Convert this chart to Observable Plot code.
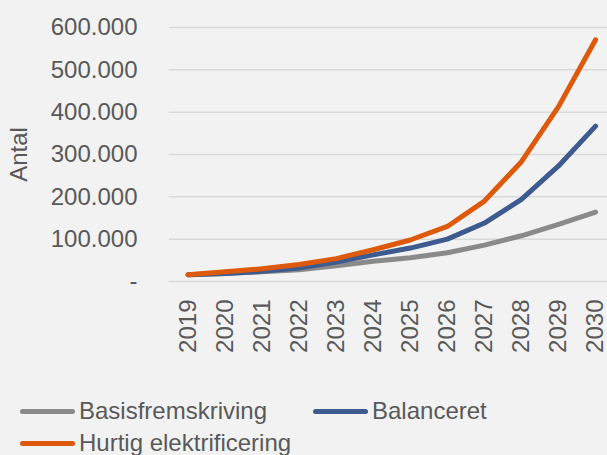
<!DOCTYPE html>
<html>
<head>
<meta charset="utf-8">
<script src="https://cdn.jsdelivr.net/npm/d3@7"></script>
<script src="https://cdn.jsdelivr.net/npm/@observablehq/plot@0.6"></script>
<style>
  html, body { margin: 0; padding: 0; background: #f2f2f2; }
  #wrap { position: relative; width: 607px; height: 455px; overflow: hidden; font-family: "Liberation Sans", Arial, sans-serif; color: #595959; }
  .leg { position: absolute; display: flex; align-items: center; font-size: 24px; white-space: nowrap; }
  .leg .sw { width: 55px; height: 5px; border-radius: 3px; margin-right: 4px; }
</style>
</head>
<body>
<div id="wrap"></div>
<script>
const years = [2019, 2020, 2021, 2022, 2023, 2024, 2025, 2026, 2027, 2028, 2029, 2030];
const basis = [16000, 19000, 23000, 28000, 37000, 48000, 56000, 68000, 86000, 108000, 135000, 164000];
const balanceret = [16000, 19000, 24000, 32000, 46000, 63000, 79000, 100000, 138000, 194000, 273000, 367000];
const hurtig = [16000, 23000, 30000, 40000, 54000, 75000, 98000, 130000, 190000, 283000, 413000, 571000];
const seriesNames = ["Basisfremskriving", "Balanceret", "Hurtig elektrificering"];
const seriesColors = ["#8a8a8a", "#3e5b8f", "#dd5a0c"];
const yTicks = [0, 100000, 200000, 300000, 400000, 500000, 600000];

const seriesValues = [basis, balanceret, hurtig];
const data = [];
seriesNames.forEach((name, i) => {
  years.forEach((yr, j) => data.push({series: name, year: yr, value: seriesValues[i][j]}));
});

const fmt = v => v === 0 ? "-" : d3.format(",")(v).replace(/,/g, ".");

const chart = Plot.plot({
  width: 607,
  height: 380,
  marginTop: 27,
  marginBottom: 99,
  marginLeft: 169,
  marginRight: 0,
  style: {background: "transparent", fontFamily: "'Liberation Sans', Arial, sans-serif", fontSize: "24px", color: "#595959"},
  x: {type: "linear", domain: [2018.5, 2030.5], range: [169, 613.6]},
  y: {domain: [0, 600000]},
  color: {domain: seriesNames, range: seriesColors},
  marks: [
    Plot.ruleY(yTicks, {y: d => d, x1: 2018.5, x2: 2030.5, stroke: "#d9d9d9", strokeWidth: 1.5}),
    Plot.axisY({ticks: yTicks, tickFormat: fmt, tickSize: 0, tickPadding: 32, fontSize: 24, fill: "#595959",
      label: "Antal", labelAnchor: "center", labelArrow: "none", labelOffset: 160}),
    Plot.axisX({ticks: years, tickFormat: d => String(d), tickSize: 0, tickPadding: 18, tickRotate: -90, fontSize: 24, fill: "#595959", label: null}),
    Plot.line(data, {x: "year", y: "value", z: "series", stroke: "series", strokeWidth: 5, strokeLinecap: "round", strokeLinejoin: "round"})
  ]
});
const wrap = document.getElementById("wrap");
wrap.appendChild(chart);

const legPos = [[20, 411], [313, 411], [20, 443]];
seriesNames.forEach((name, i) => {
  const el = document.createElement("div");
  el.className = "leg";
  el.style.left = legPos[i][0] + "px";
  el.style.top = (legPos[i][1] - 15) + "px";
  el.style.height = "30px";
  const sw = document.createElement("span");
  sw.className = "sw";
  sw.style.background = seriesColors[i];
  const t = document.createElement("span");
  t.textContent = name;
  el.appendChild(sw); el.appendChild(t);
  wrap.appendChild(el);
});
</script>
</body>
</html>
